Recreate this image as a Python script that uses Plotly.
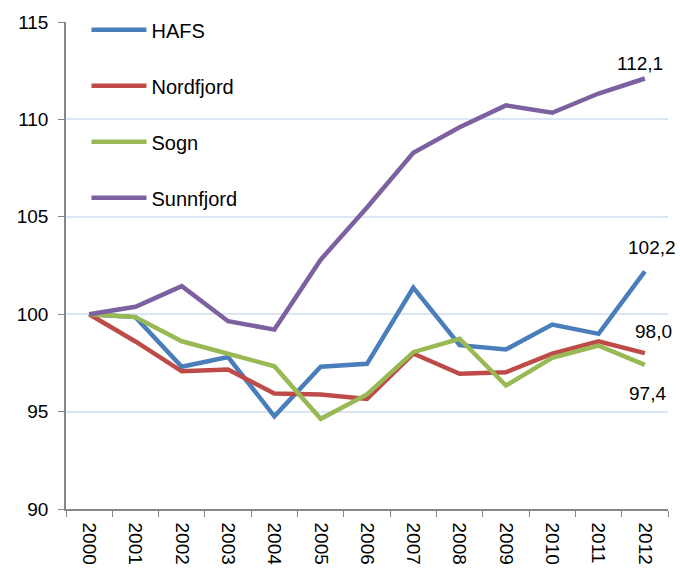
import plotly.graph_objects as go

years = ["2000", "2001", "2002", "2003", "2004", "2005", "2006",
         "2007", "2008", "2009", "2010", "2011", "2012"]
hafs = [100, 99.85, 97.3, 97.8, 94.76, 97.3, 97.45, 101.36, 98.41, 98.19, 99.47, 98.99, 102.2]
nordfjord = [100, 98.6, 97.07, 97.16, 95.93, 95.88, 95.65, 97.98, 96.94, 97.02, 97.98, 98.61, 98.0]
sogn = [100, 99.85, 98.61, 97.98, 97.33, 94.63, 95.88, 98.05, 98.74, 96.34, 97.76, 98.39, 97.4]
sunnfjord = [100, 100.38, 101.44, 99.64, 99.21, 102.8, 105.48, 108.29, 109.6, 110.72, 110.34, 111.33, 112.1]
y_ticks = [90, 95, 100, 105, 110, 115]

series = [
    ("HAFS", hafs, "#4a7ebb"),
    ("Nordfjord", nordfjord, "#be4b48"),
    ("Sogn", sogn, "#98b954"),
    ("Sunnfjord", sunnfjord, "#7d60a0"),
]
end_labels = ["102,2", "98,0", "97,4", "112,1"]
label_shift = [(7, 24), (9, 22), (3, -29), (-5, 15)]

FONT = "Liberation Sans, Arial, sans-serif"

fig = go.Figure()
for name, vals, color in series:
    fig.add_trace(go.Scatter(
        x=years, y=vals, name=name, mode="lines",
        line=dict(color=color, width=4.5),
        legendgroup=name,
    ))

annotations = []
for (name, vals, color), lab, (dx, dy) in zip(series, end_labels, label_shift):
    annotations.append(dict(
        x=len(years) - 1, y=vals[-1], xref="x", yref="y",
        text=lab, showarrow=False, xshift=dx, yshift=dy,
        font=dict(family=FONT, size=19, color="#000000"),
    ))

fig.update_layout(
    width=680, height=568,
    margin=dict(l=66, r=12, t=22, b=59, autoexpand=False),
    paper_bgcolor="white", plot_bgcolor="white",
    font=dict(family=FONT, size=19, color="#000000"),
    showlegend=True,
    annotations=annotations,
    legend=dict(x=0.034, y=1.024, xanchor="left", yanchor="top",
                bgcolor="rgba(0,0,0,0)", font=dict(size=20),
                tracegroupgap=27, itemwidth=55),
    xaxis=dict(type="category", range=[-0.5, 12.5], tickangle=90,
               showline=True, linecolor="#868686", linewidth=1.5,
               ticks="outside", tickson="boundaries", ticklen=6, tickcolor="#868686",
               showgrid=False, tickfont=dict(size=19), automargin=False,
               ticklabelstandoff=8),
    yaxis=dict(range=[90, 115], tickvals=y_ticks,
               showline=True, linecolor="#868686", linewidth=1.5,
               ticks="outside", ticklen=6, tickcolor="#868686",
               showgrid=True, gridcolor="#dce6f2", gridwidth=1.5,
               zeroline=False, tickfont=dict(size=19), automargin=False,
               ticklabelstandoff=6),
)

fig.write_html("out.html", config={"displayModeBar": False},
               post_script="document.body.style.margin='0px';")
